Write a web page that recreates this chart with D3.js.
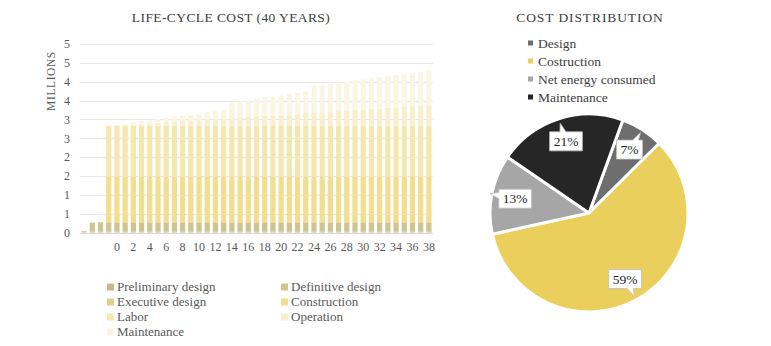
<!DOCTYPE html>
<html>
<head>
<meta charset="utf-8">
<script src="https://cdn.jsdelivr.net/npm/d3@7"></script>
<style>
  html, body { margin: 0; padding: 0; background: #fff; }
  svg { display: block; }
  svg text { font-family: "Liberation Serif", "Times New Roman", "DejaVu Serif", serif; }
</style>
</head>
<body>
<svg id="chart" width="771" height="346"></svg>
<script>
// ---------- Life-cycle cost data (millions, cumulative) ----------
// Four leading slots (design phases and construction) carry no year label.
const yearLabels = ["", "", "", "",
  "0","1","2","3","4","5","6","7","8","9","10","11","12","13","14","15","16","17","18","19",
  "20","21","22","23","24","25","26","27","28","29","30","31","32","33","34","35","36","37","38"];

const seriesNames = ["Preliminary design", "Definitive design", "Executive design",
  "Construction", "Labor", "Operation", "Maintenance"];

const preliminaryDesign = [0.03,0.03,0.03,0.03,0.03,0.03,0.03,0.03,0.03,0.03,0.03,0.03,0.03,0.03,0.03,
  0.03,0.03,0.03,0.03,0.03,0.03,0.03,0.03,0.03,0.03,0.03,0.03,0.03,0.03,0.03,0.03,0.03,0.03,0.03,0.03,
  0.03,0.03,0.03,0.03,0.03,0.03,0.03,0.03];
const definitiveDesign = [0,0.23,0.23,0.23,0.23,0.23,0.23,0.23,0.23,0.23,0.23,0.23,0.23,0.23,0.23,
  0.23,0.23,0.23,0.23,0.23,0.23,0.23,0.23,0.23,0.23,0.23,0.23,0.23,0.23,0.23,0.23,0.23,0.23,0.23,0.23,
  0.23,0.23,0.23,0.23,0.23,0.23,0.23,0.23];
const executiveDesign = [0,0,0.02,0.02,0.02,0.02,0.02,0.02,0.02,0.02,0.02,0.02,0.02,0.02,0.02,
  0.02,0.02,0.02,0.02,0.02,0.02,0.02,0.02,0.02,0.02,0.02,0.02,0.02,0.02,0.02,0.02,0.02,0.02,0.02,0.02,
  0.02,0.02,0.02,0.02,0.02,0.02,0.02,0.02];
const construction = [0,0,0,1.20,1.20,1.20,1.20,1.20,1.20,1.20,1.20,1.20,1.20,1.20,1.20,
  1.20,1.20,1.20,1.20,1.20,1.20,1.20,1.20,1.20,1.20,1.20,1.20,1.20,1.20,1.20,1.20,1.20,1.20,1.20,1.20,
  1.20,1.20,1.20,1.20,1.20,1.20,1.20,1.20];
const labor = [0,0,0,1.35,1.35,1.35,1.35,1.35,1.35,1.35,1.35,1.35,1.35,1.35,1.35,
  1.35,1.35,1.35,1.35,1.35,1.35,1.35,1.35,1.35,1.35,1.35,1.35,1.35,1.35,1.35,1.35,1.35,1.35,1.35,1.35,
  1.35,1.35,1.35,1.35,1.35,1.35,1.35,1.35];
const operation = [0,0,0,0,
  0.01,0.03,0.04,0.06,0.07,0.08,0.10,0.11,0.13,0.14,0.15,0.17,0.18,0.20,0.21,0.22,0.24,0.25,0.27,0.28,
  0.29,0.31,0.32,0.34,0.35,0.36,0.38,0.39,0.41,0.42,0.43,0.45,0.46,0.48,0.49,0.50,0.52,0.53,0.55];
const maintenance = [0,0,0,0,
  0.02,0.03,0.05,0.07,0.08,0.10,0.11,0.13,0.14,0.16,0.17,0.19,0.21,0.22,0.41,0.44,0.45,0.47,0.49,0.50,
  0.52,0.54,0.55,0.57,0.72,0.73,0.74,0.76,0.77,0.79,0.80,0.81,0.83,0.84,0.86,0.87,0.88,0.90,0.91];

const yTickValues = [0, 0.5, 1, 1.5, 2, 2.5, 3, 3.5, 4, 4.5, 5];
const yTickLabels = ["0", "1", "1", "2", "2", "3", "3", "4", "4", "5", "5"];

// ---------- Cost distribution data (%) ----------
const costCategories = ["Design", "Costruction", "Net energy consumed", "Maintenance"];
const costShares = [7, 59, 13, 21];

// ---------- Styles ----------
const seriesColors = ["#c6b98b", "#d2c48f", "#e0cf88", "#f1de8f", "#f5e7b0", "#f8efcf", "#fbf5e3"];
const pieColors = ["#6e6e6e", "#eacf5c", "#a6a6a6", "#262626"];
const textColor = "#595959";
const serif = "'Liberation Serif', 'Times New Roman', 'DejaVu Serif', serif";

const svg = d3.select("#chart");
svg.append("rect").attr("width", 771).attr("height", 346).attr("fill", "#fff");

// ================= Stacked column chart =================
const plotLeft = 80, plotRight = 433, plotTop = 44, plotBottom = 232.5;

const x = d3.scaleBand()
  .domain(d3.range(yearLabels.length))
  .range([plotLeft, plotRight])
  .paddingInner(0.36)
  .paddingOuter(0.18);

const y = d3.scaleLinear().domain([0, 5]).range([plotBottom, plotTop]);

svg.append("text")
  .attr("x", 231).attr("y", 22)
  .attr("text-anchor", "middle")
  .attr("font-size", 13.5).attr("letter-spacing", 0.4)
  .attr("fill", "#404040")
  .text("LIFE-CYCLE COST (40 YEARS)");

svg.append("text")
  .attr("transform", "translate(55,81) rotate(-90)")
  .attr("text-anchor", "middle")
  .attr("font-size", 11.5).attr("letter-spacing", 0.6)
  .attr("fill", textColor)
  .text("MILLIONS");

// horizontal gridlines
svg.append("g").selectAll("line").data(yTickValues).join("line")
  .attr("x1", plotLeft).attr("x2", plotRight)
  .attr("y1", d => Math.round(y(d)) + 0.5).attr("y2", d => Math.round(y(d)) + 0.5)
  .attr("stroke", d => d === 0 ? "#d9d9d9" : "#e8e8e8")
  .attr("stroke-width", 1);

// stacked bars
const seriesValues = [preliminaryDesign, definitiveDesign, executiveDesign,
  construction, labor, operation, maintenance];
const rows = yearLabels.map((lab, i) => {
  const r = { idx: i };
  seriesNames.forEach((n, k) => { r[n] = seriesValues[k][i]; });
  return r;
});
const stacked = d3.stack().keys(seriesNames)(rows);

svg.append("g").selectAll("g").data(stacked).join("g")
  .attr("fill", (d, k) => seriesColors[k])
  .selectAll("rect").data(d => d).join("rect")
  .attr("x", d => x(d.data.idx))
  .attr("width", x.bandwidth())
  .attr("y", d => y(d[1]))
  .attr("height", d => Math.max(0, y(d[0]) - y(d[1])));

// y axis labels
const yAxis = svg.append("g")
  .attr("transform", `translate(${plotLeft},0)`)
  .call(d3.axisLeft(y).tickValues(yTickValues)
    .tickFormat((d, i) => yTickLabels[i]).tickSize(0).tickPadding(10));
yAxis.select(".domain").remove();
yAxis.attr("font-family", serif);
yAxis.selectAll("text").attr("font-size", 12).attr("fill", textColor);

// x axis labels (every other year)
const xAxis = svg.append("g")
  .attr("transform", `translate(0,${plotBottom})`)
  .call(d3.axisBottom(x).tickValues(d3.range(0, yearLabels.length, 2))
    .tickFormat(i => yearLabels[i]).tickSize(0).tickPadding(10));
xAxis.select(".domain").remove();
xAxis.attr("font-family", serif);
xAxis.selectAll("text").attr("font-size", 12).attr("fill", textColor);

// legend
const legendPos = [[107, 287], [281, 287], [107, 302], [281, 302], [107, 317], [281, 317], [107, 332]];
const legend = svg.append("g").selectAll("g").data(seriesNames).join("g")
  .attr("transform", (d, i) => `translate(${legendPos[i][0]},${legendPos[i][1]})`);
legend.append("rect").attr("x", 0).attr("y", -3.5).attr("width", 7).attr("height", 7)
  .attr("fill", (d, i) => seriesColors[i]);
legend.append("text").attr("x", 10).attr("y", 4)
  .attr("font-size", 13).attr("fill", textColor).text(d => d);

// ================= Pie chart =================
svg.append("text")
  .attr("x", 590).attr("y", 22)
  .attr("text-anchor", "middle")
  .attr("font-size", 13.5).attr("letter-spacing", 0.9)
  .attr("fill", "#404040")
  .text("COST DISTRIBUTION");

const pieLegend = svg.append("g").selectAll("g").data(costCategories).join("g")
  .attr("transform", (d, i) => `translate(528,${43 + i * 18})`);
pieLegend.append("rect").attr("x", 0).attr("y", -2.5).attr("width", 5).attr("height", 5)
  .attr("fill", (d, i) => pieColors[i]);
pieLegend.append("text").attr("x", 10).attr("y", 4.5)
  .attr("font-size", 13.5).attr("fill", "#404040").text(d => d);

const pieCx = 589, pieCy = 213, pieR = 99;
const startA = 20 * Math.PI / 180;
const pie = d3.pie().sort(null).value(d => d.v).startAngle(startA).endAngle(startA + 2 * Math.PI);
const arcs = pie(costCategories.map((c, i) => ({ c, v: costShares[i] })));
const arc = d3.arc().innerRadius(0).outerRadius(pieR);

const pg = svg.append("g").attr("transform", `translate(${pieCx},${pieCy})`);
pg.selectAll("path").data(arcs).join("path")
  .attr("d", arc)
  .attr("fill", (d, i) => pieColors[i])
  .attr("stroke", "#fff").attr("stroke-width", 3).attr("stroke-linejoin", "round");

// data callouts: white box with a small pointer facing outward
arcs.forEach(a => {
  const mid = (a.startAngle + a.endAngle) / 2;
  const dx = Math.sin(mid), dy = -Math.cos(mid);
  const cx = dx * pieR * 0.76, cy = dy * pieR * 0.76;
  const g = pg.append("g");
  const t = g.append("text").attr("x", cx).attr("y", cy + 4.5)
    .attr("text-anchor", "middle").attr("font-size", 13.5).attr("fill", "#262626")
    .text(a.data.v + "%");
  const w = t.node().getComputedTextLength() + 8, h = 19;
  const x0 = cx - w / 2, x1 = cx + w / 2, y0 = cy - h / 2, y1 = cy + h / 2;
  const pts = [];
  const pl = 9, hb = 3;
  const horiz = Math.abs(dx) * h > Math.abs(dy) * w;
  pts.push([x0, y0]);
  if (!horiz && dy < 0) {
    const bx = Math.max(x0 + 4, Math.min(x1 - 4, cx + dx / Math.abs(dy) * h / 2));
    pts.push([bx - hb, y0], [bx + dx * pl, y0 + dy * pl], [bx + hb, y0]);
  }
  pts.push([x1, y0]);
  if (horiz && dx > 0) {
    const by = Math.max(y0 + 4, Math.min(y1 - 4, cy + dy / Math.abs(dx) * w / 2));
    pts.push([x1, by - hb], [x1 + dx * pl, by + dy * pl], [x1, by + hb]);
  }
  pts.push([x1, y1]);
  if (!horiz && dy > 0) {
    const bx = Math.max(x0 + 4, Math.min(x1 - 4, cx + dx / Math.abs(dy) * h / 2));
    pts.push([bx + hb, y1], [bx + dx * pl, y1 + dy * pl], [bx - hb, y1]);
  }
  pts.push([x0, y1]);
  if (horiz && dx < 0) {
    const by = Math.max(y0 + 4, Math.min(y1 - 4, cy + dy / Math.abs(dx) * w / 2));
    pts.push([x0, by + hb], [x0 + dx * pl, by + dy * pl], [x0, by - hb]);
  }
  g.insert("path", "text")
    .attr("d", "M" + pts.map(p => p.join(",")).join("L") + "Z")
    .attr("fill", "#fff").attr("stroke", "#bfbfbf").attr("stroke-width", 0.8);
});
</script>
</body>
</html>
